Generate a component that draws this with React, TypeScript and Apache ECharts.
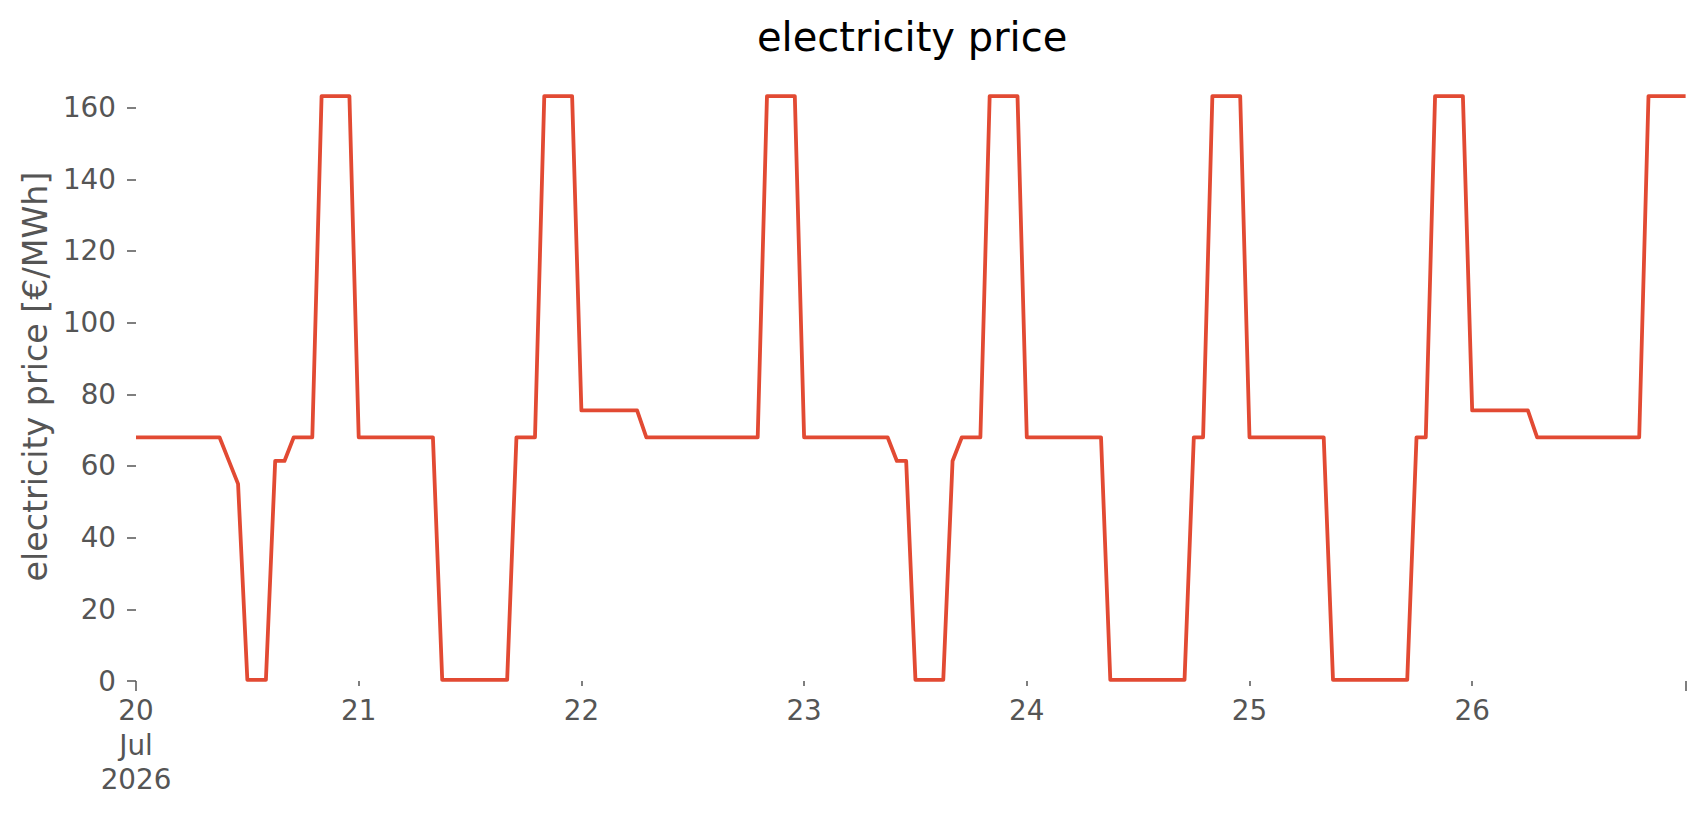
import React, { useEffect, useRef } from "react";
import * as echarts from "echarts";

// hourly electricity price, 20 Jul 2026 00:00 .. 26 Jul 2026 23:00 (€/MWh)
const day20 = [68, 68, 68, 68, 68, 68, 68, 68, 68, 68, 61.5, 55, 0.3, 0.3, 0.3, 61.4, 61.4, 68, 68, 68, 163.2, 163.2, 163.2, 163.2];
const day21 = [68, 68, 68, 68, 68, 68, 68, 68, 68, 0.3, 0.3, 0.3, 0.3, 0.3, 0.3, 0.3, 0.3, 68, 68, 68, 163.2, 163.2, 163.2, 163.2];
const day22 = [75.5, 75.5, 75.5, 75.5, 75.5, 75.5, 75.5, 68, 68, 68, 68, 68, 68, 68, 68, 68, 68, 68, 68, 68, 163.2, 163.2, 163.2, 163.2];
const day23 = [68, 68, 68, 68, 68, 68, 68, 68, 68, 68, 61.4, 61.4, 0.3, 0.3, 0.3, 0.3, 61.4, 68, 68, 68, 163.2, 163.2, 163.2, 163.2];
const day24 = [68, 68, 68, 68, 68, 68, 68, 68, 68, 0.3, 0.3, 0.3, 0.3, 0.3, 0.3, 0.3, 0.3, 0.3, 68, 68, 163.2, 163.2, 163.2, 163.2];
const day25 = [68, 68, 68, 68, 68, 68, 68, 68, 68, 0.3, 0.3, 0.3, 0.3, 0.3, 0.3, 0.3, 0.3, 0.3, 68, 68, 163.2, 163.2, 163.2, 163.2];
const day26 = [75.5, 75.5, 75.5, 75.5, 75.5, 75.5, 75.5, 68, 68, 68, 68, 68, 68, 68, 68, 68, 68, 68, 68, 163.2, 163.2, 163.2, 163.2, 163.2];

const price: number[] = [...day20, ...day21, ...day22, ...day23, ...day24, ...day25, ...day26];
// x position of every sample: hours since 20 Jul 2026 00:00
const hours: number[] = price.map((_, i) => i);

const dayTickHours = [0, 24, 48, 72, 96, 120, 144];
const dayTickLabels = ["20\nJul\n2026", "21", "22", "23", "24", "25", "26"];
const minorTickHours = [24, 48, 72, 96, 120, 144];
const majorTickHours = [0, 167];
const yTicks = [0, 20, 40, 60, 80, 100, 120, 140, 160];

const FONT = "DejaVu Sans";
const GREY = "#555555";

export default function App() {
  const ref = useRef<HTMLDivElement>(null);

  useEffect(() => {
    if (!ref.current) return;
    const chart = echarts.init(ref.current, undefined, { renderer: "svg" });
    const common = {
      type: "value" as const,
      min: 0,
      max: 167,
      position: "bottom" as const,
      axisLine: { show: false, onZero: false },
      splitLine: { show: false },
    };
    chart.setOption({
      animation: false,
      backgroundColor: "#ffffff",
      title: {
        text: "electricity price",
        left: 757,
        top: 17,
        padding: 0,
        textStyle: { fontFamily: FONT, fontSize: 40, fontWeight: "normal", color: "#000000", lineHeight: 40 },
      },
      grid: {
        left: 136,
        right: 20.4,
        top: 72.1,
        bottom: 134,
        containLabel: false,
        outerBoundsMode: "none",
      },
      xAxis: [
        {
          ...common,
          axisTick: { show: true, length: 5, customValues: minorTickHours, lineStyle: { color: GREY, width: 1.5 } },
          axisLabel: {
            customValues: dayTickHours,
            formatter: (v: number) => {
              const k = dayTickHours.indexOf(Math.round(v));
              return k >= 0 ? dayTickLabels[k] : "";
            },
            color: GREY,
            fontFamily: FONT,
            fontSize: 27.8,
            lineHeight: 34.7,
            margin: 12,
          },
        },
        {
          ...common,
          axisTick: { show: true, length: 10, customValues: majorTickHours, lineStyle: { color: GREY, width: 1.5 } },
          axisLabel: { show: false },
        },
      ],
      yAxis: {
        type: "value",
        min: 0,
        max: 169.9,
        axisLine: { show: false },
        splitLine: { show: false },
        axisTick: { show: true, length: 9, customValues: yTicks, lineStyle: { color: GREY, width: 1.5 } },
        axisLabel: {
          customValues: yTicks,
          color: GREY,
          fontFamily: FONT,
          fontSize: 27.8,
          margin: 20,
        },
        name: "electricity price [€/MWh]",
        nameLocation: "middle",
        nameRotate: 90,
        nameGap: 79,
        nameTextStyle: { color: GREY, fontFamily: FONT, fontSize: 33.3 },
      },
      series: [
        {
          type: "line",
          xAxisIndex: 0,
          data: hours.map((h, i) => [h, price[i]]),
          showSymbol: false,
          symbol: "none",
          clip: false,
          lineStyle: { color: "#E24A33", width: 3.8, join: "round", cap: "butt" },
        },
      ],
    });
    return () => chart.dispose();
  }, []);

  return (
    <div
      ref={ref}
      style={{ position: "fixed", left: 0, top: 0, width: 1706, height: 815, background: "#fff" }}
    />
  );
}
